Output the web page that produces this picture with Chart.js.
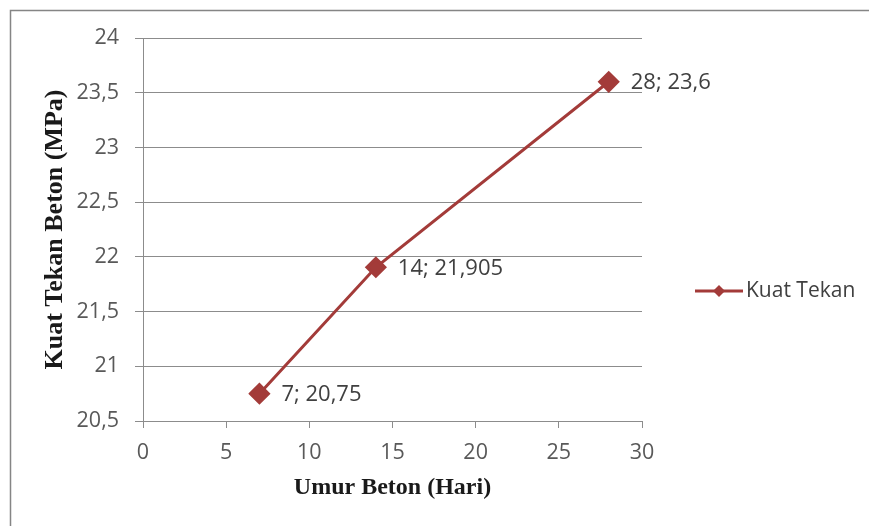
<!DOCTYPE html>
<html>
<head>
<meta charset="utf-8">
<script src="https://cdn.jsdelivr.net/npm/chart.js@4.4.0/dist/chart.umd.min.js"></script>
<style>
  html, body { margin: 0; padding: 0; background: #fff; }
  #wrap { width: 869px; height: 526px; }
</style>
</head>
<body>
<div id="wrap"><canvas id="kuatChart" width="869" height="526"></canvas></div>
<script>
const seriesName = "Kuat Tekan";
const umurHari = [7, 14, 28];
const kuatTekan = [20.75, 21.905, 23.6];
const xTicks = [0, 5, 10, 15, 20, 25, 30];
const yTicks = [20.5, 21, 21.5, 22, 22.5, 23, 23.5, 24];

const lineColor = "#A33B39";
const textColor = "#595959";
const gridColor = "#8c8c8c";
const tickFont = { family: "'Open Sans'", size: 21.5 };

const fmt = v => String(v).replace(".", ",");

/* ---------- outer frame (only top and left edges show) ---------- */
const framePlugin = {
  id: "frame",
  beforeDraw(chart) {
    const c = chart.ctx;
    c.save();
    c.fillStyle = "#fff";
    c.fillRect(0, 0, chart.width, chart.height);
    c.strokeStyle = "#858585";
    c.lineWidth = 1.5;
    c.strokeRect(10.5, 10.5, 900, 600);
    c.restore();
  },
};

/* ---------- point labels "x; y" ---------- */
const pointLabels = {
  id: "pointLabels",
  afterDatasetsDraw(chart) {
    const c = chart.ctx;
    const meta = chart.getDatasetMeta(0);
    c.save();
    c.font = "22px 'Open Sans'";
    c.fillStyle = "#404040";
    c.textBaseline = "middle";
    meta.data.forEach((pt, i) => {
      c.fillText(umurHari[i] + "; " + fmt(kuatTekan[i]), pt.x + 22, pt.y + 1);
    });
    c.restore();
  },
};

/* ---------- legend on the right ---------- */
const sideLegend = {
  id: "sideLegend",
  afterDraw(chart) {
    const c = chart.ctx;
    const y = 291;
    c.save();
    c.strokeStyle = lineColor;
    c.lineWidth = 3;
    c.beginPath();
    c.moveTo(695, y);
    c.lineTo(743, y);
    c.stroke();
    c.fillStyle = lineColor;
    c.beginPath();
    c.moveTo(719, y - 6);
    c.lineTo(725, y);
    c.lineTo(719, y + 6);
    c.lineTo(713, y);
    c.closePath();
    c.fill();
    c.font = "21px 'Open Sans'";
    c.fillStyle = "#404040";
    c.textBaseline = "middle";
    c.fillText(seriesName, 746, y);
    c.restore();
  },
};

new Chart(document.getElementById("kuatChart"), {
  type: "scatter",
  data: {
    datasets: [{
      label: seriesName,
      data: umurHari.map((x, i) => ({ x, y: kuatTekan[i] })),
      showLine: true,
      borderColor: lineColor,
      backgroundColor: lineColor,
      borderWidth: 3,
      pointStyle: "rectRot",
      pointRadius: 9,
      pointHoverRadius: 9,
    }],
  },
  options: {
    responsive: false,
    animation: false,
    layout: { padding: { top: 38, right: 227, bottom: 0, left: 0 } },
    plugins: { legend: { display: false }, tooltip: { enabled: false } },
    scales: {
      x: {
        type: "linear",
        min: 0,
        max: 30,
        afterBuildTicks: s => { s.ticks = xTicks.map(v => ({ value: v })); },
        afterFit: s => { s.height = 105; },
        grid: { drawOnChartArea: false, color: gridColor, tickLength: 7 },
        border: { color: gridColor },
        ticks: { color: textColor, font: tickFont, padding: 12, maxRotation: 0 },
        title: {
          display: true,
          text: "Umur Beton (Hari)",
          color: "#1a1a1a",
          font: { family: "'Liberation Serif'", size: 24, weight: "bold" },
          padding: { top: 0, bottom: 24 },
        },
      },
      y: {
        type: "linear",
        min: 20.5,
        max: 24,
        afterBuildTicks: s => { s.ticks = yTicks.map(v => ({ value: v })); },
        afterFit: s => { s.width = 143; },
        grid: { color: gridColor, tickLength: 8 },
        border: { color: gridColor },
        ticks: { color: textColor, font: tickFont, padding: 16, callback: v => fmt(v) },
        title: {
          display: true,
          text: "Kuat Tekan Beton (MPa)",
          color: "#1a1a1a",
          font: { family: "'Liberation Serif'", size: 26, weight: "bold" },
          padding: { top: 40, bottom: 0 },
        },
      },
    },
  },
  plugins: [framePlugin, pointLabels, sideLegend],
});
</script>
</body>
</html>
